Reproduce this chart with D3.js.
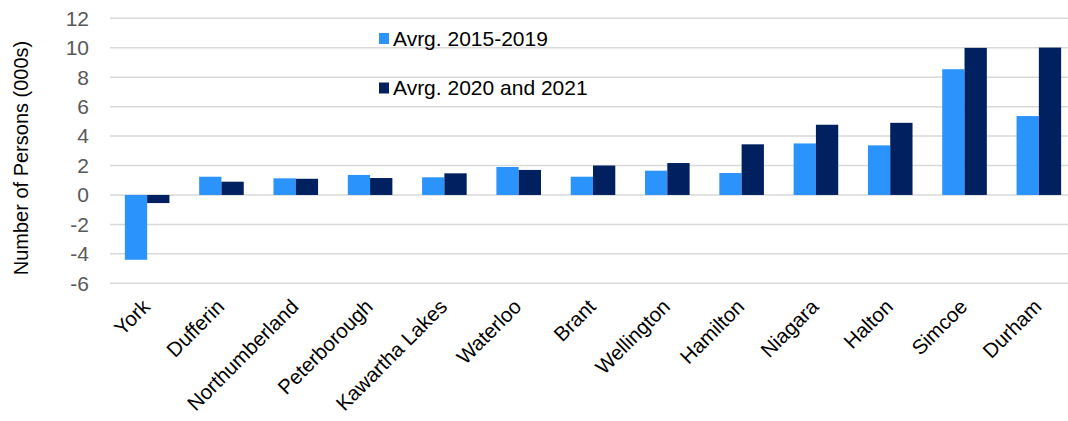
<!DOCTYPE html>
<html><head><meta charset="utf-8">
<script src="https://cdn.jsdelivr.net/npm/d3@7"></script>
<style>body{margin:0;background:#fff;}svg{display:block;font-family:"Liberation Sans",Arial,sans-serif;}</style>
</head><body>
<svg id="chart" width="1068" height="421"></svg>
<script>
const categories = ["York","Dufferin","Northumberland","Peterborough","Kawartha Lakes","Waterloo","Brant","Wellington","Hamilton","Niagara","Halton","Simcoe","Durham"];
const avg2015_2019 = [-4.4,1.24,1.13,1.36,1.2,1.9,1.24,1.65,1.49,3.5,3.37,8.54,5.36];
const avg2020_2021 = [-0.55,0.9,1.1,1.15,1.47,1.7,2.0,2.17,3.44,4.77,4.9,9.99,10.01];
const seriesNames = ["Avrg. 2015-2019","Avrg. 2020 and 2021"];
const colors = ["#2a93fc","#002060"];
const yTicks = [-6,-4,-2,0,2,4,6,8,10,12];

(function(){
const svg = d3.select("#chart");
const mL = 110, mR = 1076, mT = 18.3, mB = 283.3;
const x = d3.scaleBand().domain(categories).range([mL,mR]).paddingInner(0.4).paddingOuter(0.2);
const xs = d3.scaleBand().domain([0,1]).range([0,x.bandwidth()]);
const y = d3.scaleLinear().domain([-6,12]).range([mB,mT]);

svg.append("g").selectAll("line").data(yTicks).join("line")
  .attr("x1",mL).attr("x2",mR)
  .attr("y1",d=>y(d)).attr("y2",d=>y(d))
  .attr("stroke","#d9d9d9").attr("stroke-width",1.5);

svg.append("g").selectAll("text").data(yTicks).join("text")
  .attr("x",89).attr("y",d=>y(d)).attr("dy","0.35em")
  .attr("text-anchor","end").attr("font-size",21).attr("fill","#595959")
  .text(d=>d);

svg.append("text").attr("transform","translate(28,158) rotate(-90)")
  .attr("text-anchor","middle").attr("font-size",20).attr("fill","#000")
  .text("Number of Persons (000s)");

const series = [avg2015_2019, avg2020_2021];
series.forEach((vals,si)=>{
  svg.append("g").selectAll("rect").data(vals).join("rect")
    .attr("x",(d,i)=>x(categories[i])+xs(si))
    .attr("width",xs.bandwidth())
    .attr("y",d=>y(Math.max(0,d)))
    .attr("height",d=>Math.abs(y(d)-y(0)))
    .attr("fill",colors[si]);
});

svg.append("g").selectAll("text").data(categories).join("text")
  .attr("transform",d=>`translate(${x(d)+x.bandwidth()/2+4},${308}) rotate(-45)`)
  .attr("text-anchor","end").attr("font-size",20.5).attr("fill","#000")
  .text(d=>d);

const leg = [{y:33,ty:46},{y:82.5,ty:95}];
seriesNames.forEach((n,i)=>{
  svg.append("rect").attr("x",379).attr("y",leg[i].y).attr("width",10).attr("height",11).attr("fill",colors[i]);
  svg.append("text").attr("x",393).attr("y",leg[i].ty).attr("font-size",21).attr("fill","#000").text(n);
});
})();
</script>
</body></html>
